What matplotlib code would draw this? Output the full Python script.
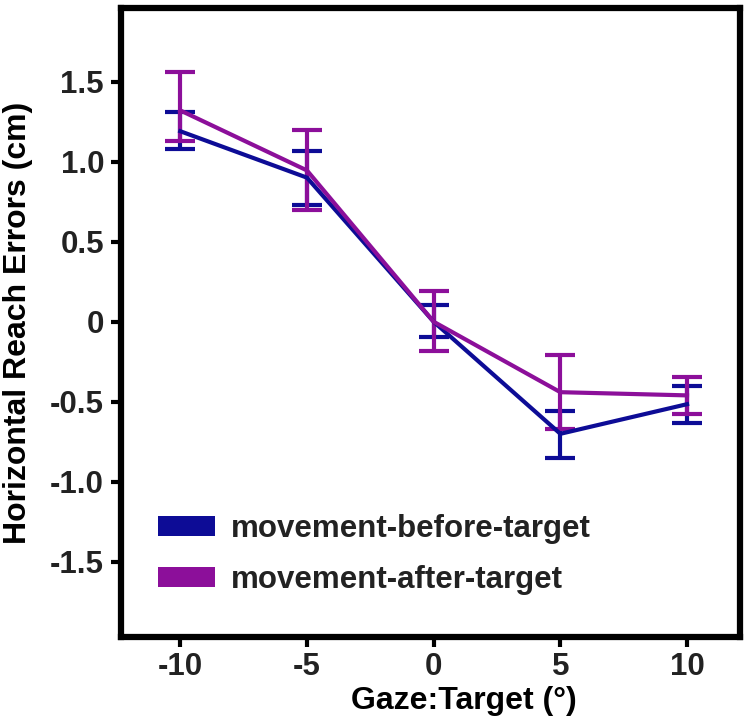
import numpy as np
import matplotlib.pyplot as plt
from matplotlib.patches import Patch

plt.rcParams['font.family'] = ['Liberation Sans', 'DejaVu Sans']
plt.rcParams['font.weight'] = 'bold'

gaze = [-10, -5, 0, 5, 10]
tick_labels_x = ["-10", "-5", "0", "5", "10"]
yticks = [-1.5, -1.0, -0.5, 0, 0.5, 1.0, 1.5]
ytick_labels = ["-1.5", "-1.0", "-0.5", "0", "0.5", "1.0", "1.5"]

# movement-before-target (blue)
before_mean = [1.19, 0.90, 0.0, -0.70, -0.515]
before_hi = [1.31, 1.065, 0.105, -0.56, -0.40]
before_lo = [1.08, 0.73, -0.095, -0.85, -0.63]

# movement-after-target (purple)
after_mean = [1.32, 0.945, 0.0, -0.44, -0.46]
after_hi = [1.56, 1.20, 0.195, -0.205, -0.345]
after_lo = [1.13, 0.70, -0.185, -0.67, -0.575]

blue = "#0d0c96"
purple = "#8c0f9a"

fig = plt.figure(figsize=(7.5, 7.24), dpi=100)
ax = fig.add_axes([0.161, 0.12, 0.826, 0.869])

for mean, lo, hi, col in [(before_mean, before_lo, before_hi, blue),
                          (after_mean, after_lo, after_hi, purple)]:
    mean = np.array(mean)
    err = [mean - np.array(lo), np.array(hi) - mean]
    ax.errorbar(gaze, mean, yerr=err, color=col, lw=3, elinewidth=3,
                capsize=11, capthick=3)

ax.set_xlim(-12.35, 12.1)
ax.set_ylim(-1.97, 1.96)
ax.set_xticks(gaze)
ax.set_xticklabels(tick_labels_x)
ax.set_yticks(yticks)
ax.set_yticklabels(ytick_labels)

for s in ax.spines.values():
    s.set_linewidth(4.5)
ax.tick_params(width=3, length=7, labelsize=22.5, labelcolor="#222222",
               color='black')
ax.tick_params(axis='x', pad=4)
ax.tick_params(axis='y', pad=5)

ax.set_xlabel("Gaze:Target (°)", fontsize=23, fontweight='bold')
ax.set_ylabel("Horizontal Reach Errors (cm)", fontsize=23, fontweight='bold')
ax.xaxis.set_label_coords(0.554, -0.078)
ax.yaxis.set_label_coords(-0.142, 0.5)

handles = [Patch(facecolor=blue, label="movement-before-target"),
           Patch(facecolor=purple, label="movement-after-target")]
ax.legend(handles=handles, loc='lower left', bbox_to_anchor=(0.035, 0.042),
          frameon=False, fontsize=22.5, handlelength=1.82, handleheight=0.64,
          handletextpad=0.5, labelspacing=0.68, borderpad=0,
          labelcolor="#222222")

fig.savefig("out.png")
